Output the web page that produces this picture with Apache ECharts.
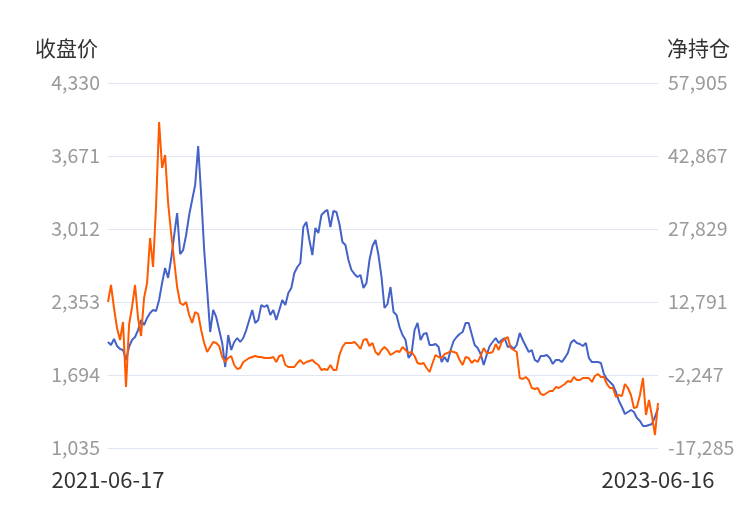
<!DOCTYPE html>
<html>
<head>
<meta charset="utf-8">
<script src="https://cdn.jsdelivr.net/npm/echarts@6/dist/echarts.min.js"></script>
<style>
html,body{margin:0;padding:0;background:#fff;}
#main{width:750px;height:510px;}
</style>
</head>
<body>
<div id="main"></div>
<script>
const startDate = '2021-06-17';
const endDate = '2023-06-16';
const pointCount = 184;

const closePrice = [
1992,1965,2019,1956,1929,1920,1830,1947,2010,2037,
2100,2191,2145,2209,2254,2281,2272,2371,2525,2660,
2570,2741,2949,3156,2786,2822,2958,3138,3274,3409,
3761,3319,2822,2461,2082,2281,2218,2100,1983,1766,
2055,1920,1992,2028,1992,2028,2100,2191,2281,2164,
2191,2326,2308,2326,2236,2281,2191,2281,2371,2326,
2434,2479,2615,2669,2705,3030,3075,2913,2777,3021,
2976,3138,3166,3184,3030,3175,3166,3057,2895,2868,
2732,2642,2606,2579,2597,2479,2525,2732,2859,2913,
2777,2579,2299,2335,2488,2263,2236,2127,2055,2010,
1848,1884,2100,2164,2010,2064,2073,1965,1965,1974,
1947,1811,1857,1811,1920,2001,2037,2064,2082,2164,
2164,2064,1965,1938,1884,1784,1875,1956,1992,2028,
1983,2010,2028,1947,1956,1929,1965,2073,2010,1956,
1902,1920,1830,1811,1866,1866,1875,1848,1793,1830,
1830,1811,1848,1893,1983,2010,1983,1974,1956,1983,
1848,1811,1811,1811,1802,1703,1658,1631,1604,1541,
1459,1405,1342,1360,1378,1360,1306,1279,1234,1234,
1243,1252,1315,1396
];

const netPosition = [
12791,16293,11555,7435,4963,8671,-4719,8053,11761,16293,
9495,5787,13615,16705,25975,20001,32773,49871,40395,43073,
33185,27005,21443,15881,12585,12173,12791,10113,8465,10731,
10319,7023,4345,2491,3521,4551,4345,3727,1461,431,
1255,1667,-187,-1011,-805,431,843,1255,1461,1667,
1461,1461,1255,1255,1255,1461,431,1667,1873,-187,
-599,-599,-599,225,843,19,431,637,843,225,
-187,-1217,-1011,-1217,-187,-1217,-1217,1873,3521,4345,
4345,4345,4551,3933,3109,4963,5169,3727,4345,2491,
1873,2903,3521,2903,1873,2285,2697,2491,3521,2903,
2285,2491,1667,225,19,225,-805,-1629,225,1873,
1461,1255,2079,2285,2697,2491,2285,843,-187,1461,
1255,225,843,431,1667,3315,2285,2285,2491,4139,
2903,4551,5169,5581,3315,2903,2491,-2865,-3071,-2659,
-3277,-4925,-5131,-4925,-6161,-6367,-5955,-5543,-5543,-4719,
-4925,-4513,-4101,-3483,-3689,-2659,-3277,-3277,-2865,-2865,
-2865,-3689,-2453,-2041,-2659,-2659,-4101,-4925,-4925,-6779,
-6367,-6573,-4101,-4925,-6367,-9045,-8839,-6367,-2865,-10487,
-7397,-10693,-14607,-8015
];

const leftTicks = [1035, 1694, 2353, 3012, 3671, 4330];
const rightTicks = [-17285, -2247, 12791, 27829, 42867, 57905];
const leftName = '收盘价';
const rightName = '净持仓';

// category dates spread over the period
const dates = [];
(function () {
  const s = Date.parse(startDate + 'T00:00:00Z');
  const e = Date.parse(endDate + 'T00:00:00Z');
  const span = (e - s) / 86400000;
  for (let i = 0; i < pointCount; i++) {
    const d = new Date(s + Math.round(i * span / (pointCount - 1)) * 86400000);
    dates.push(d.toISOString().slice(0, 10));
  }
  dates[0] = startDate;
  dates[pointCount - 1] = endDate;
})();

const fmt = v => Number(v).toLocaleString('en-US');
const FONT = '"Noto Sans CJK SC", "Noto Sans", sans-serif';

const chart = echarts.init(document.getElementById('main'));
chart.setOption({
  animation: false,
  grid: { left: 108, right: 92, top: 83, bottom: 62, containLabel: false },
  xAxis: {
    type: 'category',
    data: dates,
    boundaryGap: false,
    axisLine: { show: false },
    axisTick: { show: false },
    splitLine: { show: false },
    axisLabel: {
      interval: (idx) => idx === 0 || idx === dates.length - 1,
      color: '#333',
      fontSize: 22,
      fontFamily: FONT,
      margin: 21,
      hideOverlap: false
    }
  },
  yAxis: [
    {
      type: 'value',
      position: 'left',
      min: leftTicks[0],
      max: leftTicks[leftTicks.length - 1],
      name: leftName,
      nameLocation: 'end',
      nameGap: 35,
      nameTextStyle: { color: '#333', fontSize: 21, fontFamily: FONT, align: 'right', verticalAlign: 'middle', padding: [0, 10, 0, 0] },
      axisLine: { show: false },
      axisTick: { show: false, customValues: leftTicks },
      splitLine: { show: true, lineStyle: { color: '#e0e6f1', width: 1 } },
      axisLabel: { customValues: leftTicks, formatter: fmt, color: '#9a9a9a', fontSize: 19.5, fontFamily: FONT, margin: 8 }
    },
    {
      type: 'value',
      position: 'right',
      min: rightTicks[0],
      max: rightTicks[rightTicks.length - 1],
      name: rightName,
      nameLocation: 'end',
      nameGap: 35,
      nameTextStyle: { color: '#333', fontSize: 21, fontFamily: FONT, align: 'left', verticalAlign: 'middle', padding: [0, 0, 0, 9] },
      axisLine: { show: false },
      axisTick: { show: false, customValues: rightTicks },
      splitLine: { show: false },
      axisLabel: { customValues: rightTicks, formatter: fmt, color: '#9a9a9a', fontSize: 19.5, fontFamily: FONT, margin: 10 }
    }
  ],
  series: [
    {
      name: leftName,
      type: 'line',
      yAxisIndex: 0,
      data: closePrice,
      showSymbol: false,
      lineStyle: { color: '#4462c8', width: 2 },
      itemStyle: { color: '#4462c8' }
    },
    {
      name: rightName,
      type: 'line',
      yAxisIndex: 1,
      data: netPosition,
      showSymbol: false,
      lineStyle: { color: '#ff5a00', width: 2 },
      itemStyle: { color: '#ff5a00' }
    }
  ]
});
</script>
</body>
</html>
